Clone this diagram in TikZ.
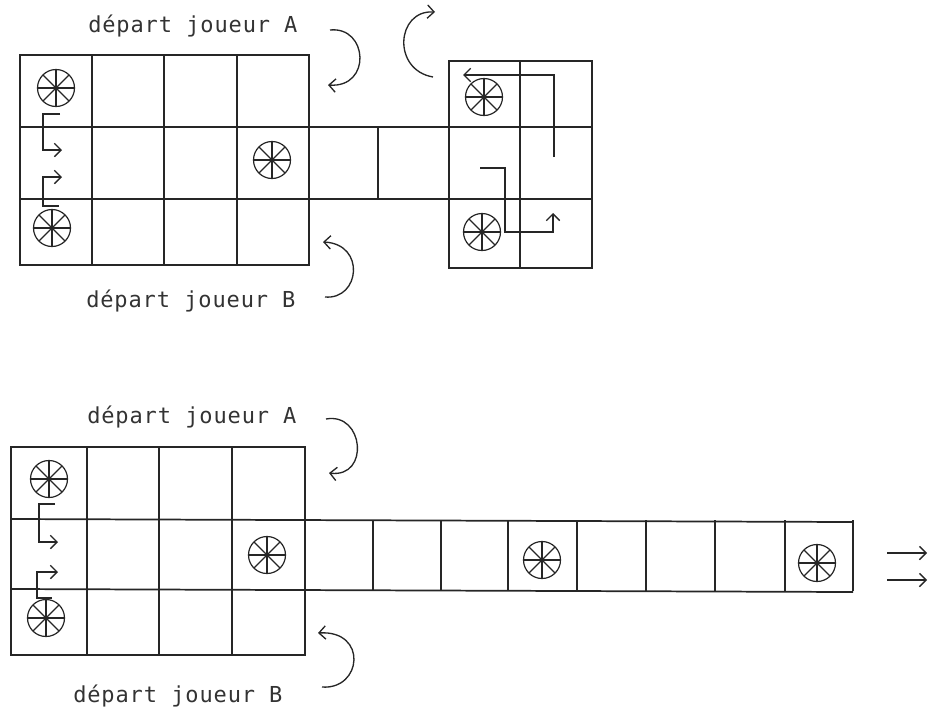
\documentclass[tikz,border=0pt]{standalone}
\usepackage{fontspec}
\usetikzlibrary{arrows.meta}
\newfontfamily\plotfont[LetterSpace=4]{DejaVu Sans Mono}
\begin{document}
\begin{tikzpicture}[x=0.75pt,y=-0.75pt,
  ink/.style={draw=black!85,line width=1.3pt},
  thin/.style={draw=black!85,line width=1.0pt},
  lbl/.style={inner sep=0pt,anchor=base west,text=black!80,font=\plotfont\fontsize{16.5}{19}\selectfont},
  >={Straight Barb[length=5pt,width=10pt]},
  wheel/.pic={
    \draw[black!85,line width=0.9pt] (0,0) circle (18.5);
    \foreach \a in {0,45,90,135} \draw[black!85,line width=0.9pt] (\a:18.5) -- (\a+180:18.5);
    \fill[black!85] (0,0) circle (1.5);
  }]
\useasboundingbox (0,0) rectangle (930,711);

% ===== top diagram =====
% left grid
\draw[ink] (20,55) rectangle (309,265);
\foreach \x in {92,164,237} \draw[ink] (\x,55) -- (\x,265);
% row lines through grid, corridor and right box
\draw[ink] (20,127) -- (592,127);
\draw[ink] (20,199) -- (592,199);
% corridor
\draw[ink] (378,127) -- (378,199);
% right box
\draw[ink] (449,61) rectangle (592,268);
\draw[ink] (520,61) -- (520,268);
% wheels
\pic at (56,88) {wheel};
\pic at (52,228) {wheel};
\pic at (272,160) {wheel};
\pic at (484,97) {wheel};
\pic at (482,232) {wheel};
% left arrows
\coordinate (ta1) at (60,114);
\coordinate (ta2) at (62,150);
\coordinate (tb1) at (59,206);
\coordinate (tb2) at (62,177);
\draw[thin,->] (ta1) -- (43,114) -- (43,150) -- (ta2);
\draw[thin,->] (tb1) -- (43,206) -- (43,177) -- (tb2);
% right box paths
\coordinate (rp1) at (554,157);
\coordinate (rp2) at (463,75);
\draw[thin,->] (rp1) -- (554,75) -- (rp2);
\coordinate (rq1) at (480,168);
\coordinate (rq2) at (553,213);
\draw[thin,->] (rq1) -- (505,168) -- (505,232) -- (553,232) -- (rq2);
% labels
\node[lbl] (tA) at (88,32) {départ joueur A};
\node[lbl] (tB) at (86,307) {départ joueur B};
% curved arrows
\coordinate (caS) at (330,30);
\coordinate (caE) at (328,85);
\draw[thin,->] (caS) .. controls (368,26) and (372,88) .. (caE);
\coordinate (cbS) at (325,297);
\coordinate (cbE) at (323,242);
\draw[thin,->] (cbS) .. controls (360,300) and (366,244) .. (cbE);
\coordinate (ccS) at (433,77);
\coordinate (ccE) at (435,12);
\draw[thin,->] (ccS) .. controls (392,70) and (396,10) .. (ccE);

% ===== bottom diagram =====
\draw[ink] (11,447) rectangle (305,655);
\foreach \x in {87,159,232} \draw[ink] (\x,447) -- (\x,655);
\draw[ink] (11,519) -- (853,522);
\draw[ink] (11,589) -- (853,592);
\foreach \x in {373,441,508,577,646,715,785,853} \draw[ink] (\x,520) -- (\x,591);
% wheels
\pic at (49,479) {wheel};
\pic at (46,618) {wheel};
\pic at (267,555) {wheel};
\pic at (542,560) {wheel};
\pic at (817,563) {wheel};
% left arrows
\coordinate (ba1) at (55,504);
\coordinate (ba2) at (58,542);
\coordinate (bb1) at (52,598);
\coordinate (bb2) at (58,572);
\draw[thin,->] (ba1) -- (39,504) -- (39,542) -- (ba2);
\draw[thin,->] (bb1) -- (37,598) -- (37,572) -- (bb2);
% right arrows
\coordinate (r1s) at (887,553);
\coordinate (r1e) at (927,553);
\coordinate (r2s) at (887,580);
\coordinate (r2e) at (927,580);
\draw[thin,->] (r1s) -- (r1e);
\draw[thin,->] (r2s) -- (r2e);
% labels
\node[lbl] (bA) at (87,423) {départ joueur A};
\node[lbl] (bB) at (73,702) {départ joueur B};
% curved arrows
\coordinate (daS) at (326,419);
\coordinate (daE) at (329,473);
\draw[thin,->] (daS) .. controls (364,412) and (370,478) .. (daE);
\coordinate (dbS) at (322,687);
\coordinate (dbE) at (318,633);
\draw[thin,->] (dbS) .. controls (362,690) and (368,630) .. (dbE);
\end{tikzpicture}
\end{document}
